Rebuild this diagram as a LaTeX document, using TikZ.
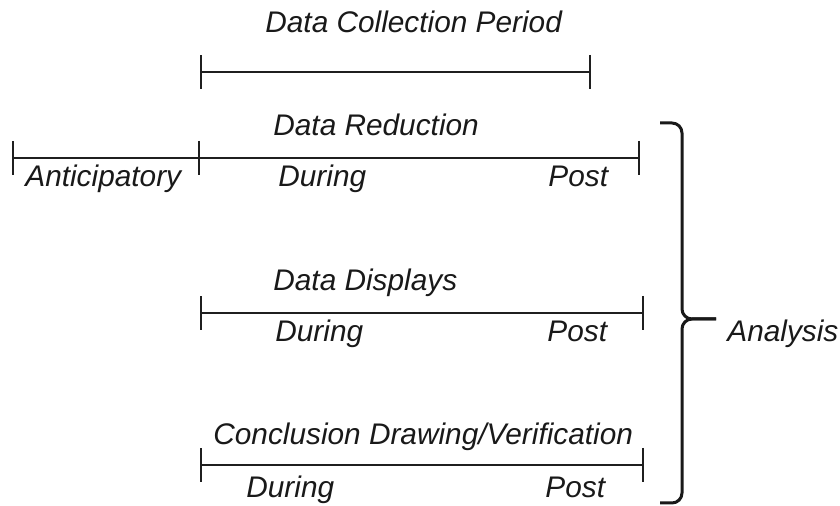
\documentclass[tikz,border=0pt]{standalone}
\usepackage{fontspec}
\setmainfont{Liberation Sans}
\usepackage{tikz}
\usetikzlibrary{arrows.meta}
\tikzset{
  tl/.style={line width=0.9pt,black!88,{Bar[width=17pt,line width=0.9pt]}-{Bar[width=17pt,line width=0.9pt]}},
  tlr/.style={line width=0.9pt,black!88,-{Bar[width=17pt,line width=0.9pt]}},
  lbl/.style={font=\fontsize{14.9}{18}\selectfont\itshape,inner sep=0pt,anchor=base west,black!90},
  brc/.style={line width=1.5pt,black!90,rounded corners=5pt}
}

\begin{document}
\begin{tikzpicture}[x=0.5pt,y=-0.5pt]
\useasboundingbox (0,0) rectangle (840,506);
% data collection period
\coordinate (cS) at (200,72); \coordinate (cE) at (591,72);
\draw[tl] (cS) -- (cE);
\node[lbl] (lCol) at (265,33) {Data Collection Period};
% data reduction
\coordinate (rA) at (12,158); \coordinate (rS) at (200,158); \coordinate (rE) at (640,158);
\draw[tl] (rA) -- (rS); \draw[tlr] (rS) -- (rE);
\node[lbl] (lRed) at (273,136) {Data Reduction};
\node[lbl] (lAnt) at (25,187) {Anticipatory};
\node[lbl] (rDur) at (278,187) {During};
\node[lbl] (rPost) at (548,187) {Post};
% data displays
\coordinate (dS) at (200,313); \coordinate (dE) at (644,313);
\draw[tl] (dS) -- (dE);
\node[lbl] (lDis) at (273,291) {Data Displays};
\node[lbl] (dDur) at (275,342) {During};
\node[lbl] (dPost) at (547,342) {Post};
% conclusion drawing
\coordinate (vS) at (200,465); \coordinate (vE) at (644,465);
\draw[tl] (vS) -- (vE);
\node[lbl] (lCon) at (213,445) {Conclusion Drawing/Verification};
\node[lbl] (vDur) at (246,498) {During};
\node[lbl] (vPost) at (545,498) {Post};
% brace
\coordinate (bTop) at (660,123); \coordinate (bBot) at (660,503);
\coordinate (bMid) at (682,319); \coordinate (bTip) at (716,319);
\draw[brc] (bTop) -| (bMid) -- (bTip);
\draw[brc] (bBot) -| (bMid) -- (bTip);
\node[lbl] (lAna) at (727,342) {Analysis};
\end{tikzpicture}
\end{document}
